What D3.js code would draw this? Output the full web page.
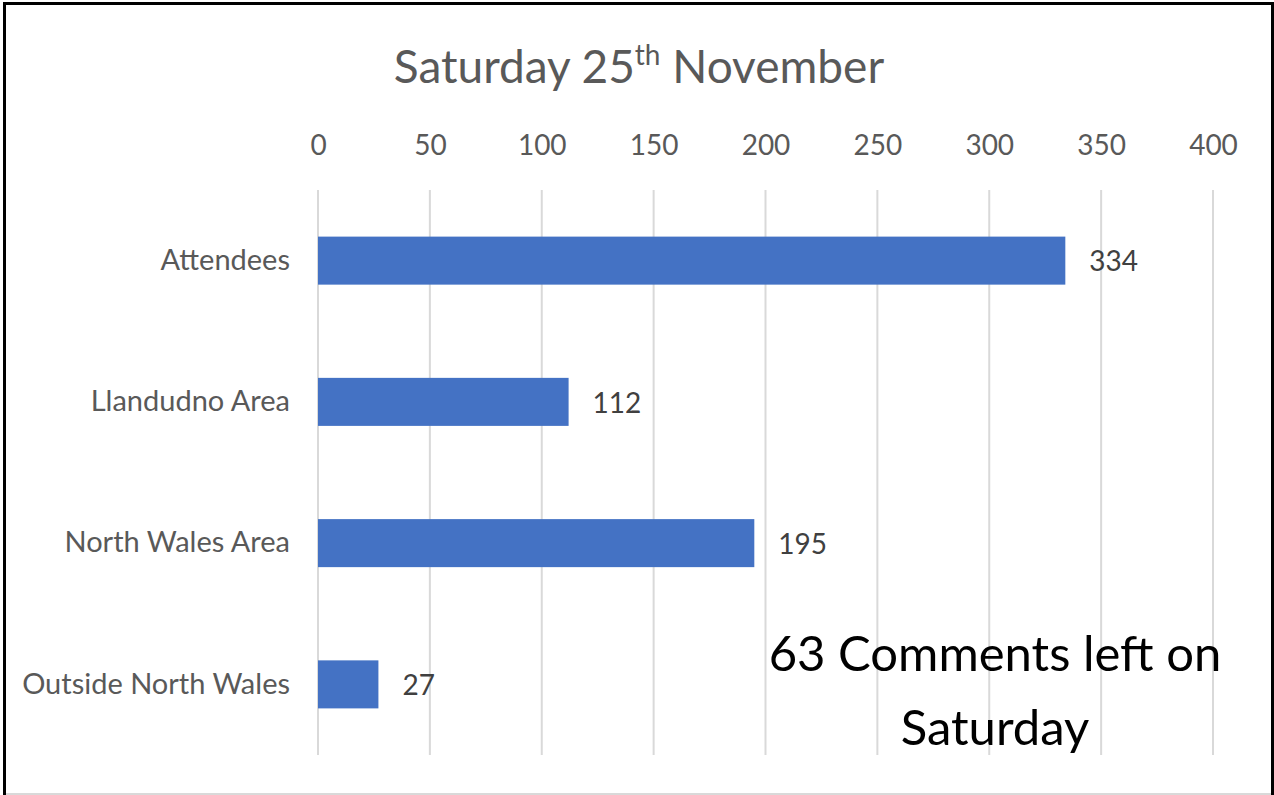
<!DOCTYPE html>
<html>
<head>
<meta charset="utf-8">
<script src="https://cdn.jsdelivr.net/npm/d3@7"></script>
<style>
  html, body { margin: 0; padding: 0; background: #fff; }
  svg { display: block; }
</style>
</head>
<body>
<svg id="chart" width="1274" height="795"></svg>
<script>
const categories = ["Attendees", "Llandudno Area", "North Wales Area", "Outside North Wales"];
const values = [334, 112, 195, 27];
const tickValues = [0, 50, 100, 150, 200, 250, 300, 350, 400];
const titleMain = "Saturday 25";
const titleSup = "th";
const titleEnd = " November";
const noteLines = ["63 Comments left on", "Saturday"];

const FONT = "Lato, 'Open Sans', sans-serif";
const svg = d3.select("#chart");

// frame
svg.append("rect").attr("x", 0).attr("y", 0).attr("width", 1274).attr("height", 795).attr("fill", "#fff");
svg.append("line").attr("x1", 3).attr("x2", 1274).attr("y1", 3.5).attr("y2", 3.5).attr("stroke", "#000").attr("stroke-width", 3);
svg.append("line").attr("x1", 4.5).attr("x2", 4.5).attr("y1", 2).attr("y2", 795).attr("stroke", "#000").attr("stroke-width", 3);
svg.append("line").attr("x1", 1272.5).attr("x2", 1272.5).attr("y1", 2).attr("y2", 795).attr("stroke", "#000").attr("stroke-width", 3);
svg.append("line").attr("x1", 6).attr("x2", 1271).attr("y1", 794).attr("y2", 794).attr("stroke", "#d9d9d9").attr("stroke-width", 2);

const x = d3.scaleLinear().domain([0, 400]).range([318, 1213]);
const y = d3.scaleBand().domain(categories).range([190, 755]).paddingInner(0.66).paddingOuter(0.33);

// gridlines
svg.append("g").selectAll("line").data(tickValues).join("line")
  .attr("x1", d => x(d)).attr("x2", d => x(d))
  .attr("y1", 190).attr("y2", 755)
  .attr("stroke", "#d9d9d9").attr("stroke-width", 2);

// top axis
const axis = svg.append("g").attr("transform", "translate(0,155)")
  .call(d3.axisTop(x).tickValues(tickValues).tickSize(0).tickPadding(0).tickFormat(d3.format("d")));
axis.select(".domain").remove();
axis.selectAll("text").attr("font-family", FONT).attr("font-size", 28).attr("fill", "#595959");

// bars
svg.append("g").selectAll("rect").data(values).join("rect")
  .attr("x", x(0))
  .attr("y", (d, i) => y(categories[i]))
  .attr("width", d => x(d) - x(0))
  .attr("height", y.bandwidth())
  .attr("fill", "#4472c4");

// value labels
svg.append("g").selectAll("text").data(values).join("text")
  .attr("x", d => x(d) + 24)
  .attr("y", (d, i) => y(categories[i]) + y.bandwidth() / 2 + 1)
  .attr("dy", "0.35em")
  .attr("font-family", FONT).attr("font-size", 28).attr("fill", "#404040")
  .text(d => d);

// category labels
const yAxis = svg.append("g").attr("transform", "translate(290,0)")
  .call(d3.axisLeft(y).tickSize(0).tickPadding(0));
yAxis.select(".domain").remove();
yAxis.selectAll("text").attr("font-family", FONT).attr("font-size", 29).attr("fill", "#595959");

// title
const title = svg.append("text").attr("x", 639).attr("y", 83)
  .attr("text-anchor", "middle").attr("font-family", FONT).attr("font-size", 46).attr("fill", "#595959");
title.append("tspan").text(titleMain);
title.append("tspan").attr("font-size", 28).attr("dy", -18).text(titleSup);
title.append("tspan").attr("dy", 18).text(titleEnd);

// annotation
svg.append("g").selectAll("text").data(noteLines).join("text")
  .attr("x", 995).attr("y", (d, i) => 671 + i * 74)
  .attr("text-anchor", "middle").attr("font-family", FONT).attr("font-size", 49).attr("fill", "#000")
  .text(d => d);
</script>
</body>
</html>
